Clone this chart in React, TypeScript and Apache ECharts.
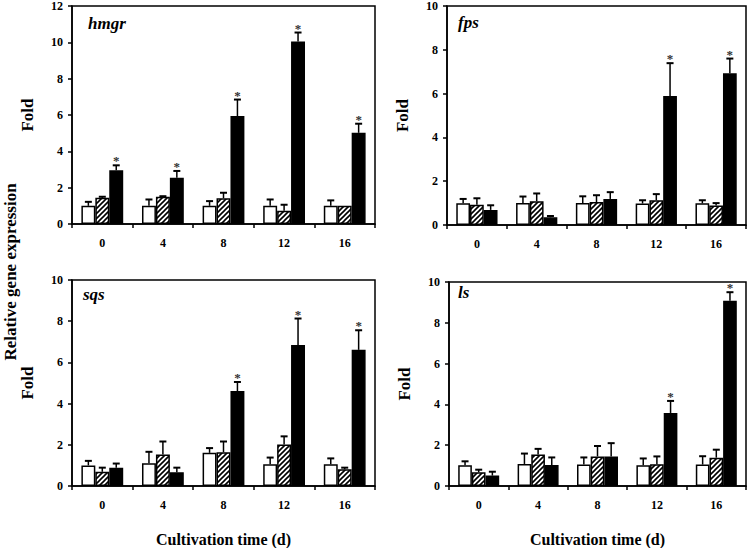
import React, { useEffect, useRef } from "react";
import * as echarts from "echarts";

const categories = ["0", "4", "8", "12", "16"];

const hmgrWhite = [1.0, 1.0, 1.0, 1.0, 1.0];
const hmgrWhiteErr = [0.22, 0.35, 0.26, 0.35, 0.3];
const hmgrHatch = [1.44, 1.5, 1.42, 0.73, 1.0];
const hmgrHatchErr = [0.06, 0.03, 0.3, 0.33, 0];
const hmgrBlack = [2.96, 2.54, 5.94, 10.05, 5.02];
const hmgrBlackErr = [0.27, 0.38, 0.91, 0.49, 0.5];
const hmgrStars = [1, 1, 1, 1, 1];

const fpsWhite = [0.99, 1.0, 1.0, 0.98, 0.99];
const fpsWhiteErr = [0.2, 0.3, 0.31, 0.15, 0.14];
const fpsHatch = [0.92, 1.09, 1.05, 1.13, 0.89];
const fpsHatchErr = [0.3, 0.35, 0.31, 0.28, 0.11];
const fpsBlack = [0.69, 0.35, 1.19, 5.89, 6.93];
const fpsBlackErr = [0.21, 0.06, 0.31, 1.5, 0.67];
const fpsStars = [0, 0, 0, 1, 1];

const sqsWhite = [1.0, 1.11, 1.61, 1.05, 1.05];
const sqsWhiteErr = [0.22, 0.55, 0.23, 0.33, 0.29];
const sqsHatch = [0.69, 1.53, 1.64, 2.02, 0.81];
const sqsHatchErr = [0.2, 0.63, 0.52, 0.39, 0.08];
const sqsBlack = [0.89, 0.67, 4.61, 6.84, 6.61];
const sqsBlackErr = [0.2, 0.22, 0.44, 1.29, 0.95];
const sqsStars = [0, 0, 1, 1, 1];

const lsWhite = [1.02, 1.08, 1.05, 1.02, 1.05];
const lsWhiteErr = [0.19, 0.51, 0.35, 0.33, 0.41];
const lsHatch = [0.67, 1.54, 1.45, 1.07, 1.39];
const lsHatchErr = [0.13, 0.28, 0.51, 0.38, 0.39];
const lsBlack = [0.51, 1.03, 1.45, 3.58, 9.08];
const lsBlackErr = [0.19, 0.37, 0.65, 0.59, 0.42];
const lsStars = [0, 0, 0, 1, 1];

const yMaxes = [12, 10, 10, 10];
const geneNames = ["hmgr", "fps", "sqs", "ls"];

const FONT = "'Liberation Serif', 'Times New Roman', serif";
const BAR_FRAC = 0.23;

function makeHatch(): string {
  const n = 5;
  const c = document.createElement("canvas");
  c.width = n;
  c.height = n;
  const ctx = c.getContext("2d")!;
  ctx.fillStyle = "#fff";
  ctx.fillRect(0, 0, n, n);
  ctx.strokeStyle = "#000";
  ctx.lineWidth = 1.6;
  ctx.beginPath();
  ctx.moveTo(-1, n + 1);
  ctx.lineTo(n + 1, -1);
  ctx.moveTo(-1, 1);
  ctx.lineTo(1, -1);
  ctx.moveTo(n - 1, n + 1);
  ctx.lineTo(n + 1, n - 1);
  ctx.stroke();
  return c.toDataURL();
}

export default function App() {
  const ref = useRef<HTMLDivElement>(null);
  useEffect(() => {
    if (!ref.current) return;
    const chart = echarts.init(ref.current, null, { renderer: "svg" });
    const hatch = { image: makeHatch(), repeat: "repeat", imageWidth: 5, imageHeight: 5 };

    const panels = [
      { w: hmgrWhite, we: hmgrWhiteErr, h: hmgrHatch, he: hmgrHatchErr, b: hmgrBlack, be: hmgrBlackErr, s: hmgrStars },
      { w: fpsWhite, we: fpsWhiteErr, h: fpsHatch, he: fpsHatchErr, b: fpsBlack, be: fpsBlackErr, s: fpsStars },
      { w: sqsWhite, we: sqsWhiteErr, h: sqsHatch, he: sqsHatchErr, b: sqsBlack, be: sqsBlackErr, s: sqsStars },
      { w: lsWhite, we: lsWhiteErr, h: lsHatch, he: lsHatchErr, b: lsBlack, be: lsBlackErr, s: lsStars },
    ];

    const grids = [
      { left: 72, top: 5, width: 303, height: 219 },
      { left: 447, top: 6, width: 299, height: 219 },
      { left: 72, top: 280, width: 303, height: 213 },
      { left: 449, top: 282, width: 297, height: 209 },
    ];

    const xAxis: any[] = [];
    const yAxis: any[] = [];
    const series: any[] = [];

    panels.forEach((p, gi) => {
      xAxis.push({
        type: "category",
        gridIndex: gi,
        data: categories,
        boundaryGap: true,
        axisLine: { lineStyle: { color: "#000", width: 1.5 } },
        axisTick: { show: true, inside: false, length: 4, interval: 0, lineStyle: { color: "#000", width: 1.5 } },
        axisLabel: { color: "#000", fontFamily: FONT, fontWeight: "bold", fontSize: 12, margin: 13 },
        name: gi >= 2 ? "Cultivation time (d)" : "",
        nameLocation: "middle",
        nameGap: 45,
        nameTextStyle: { color: "#000", fontFamily: FONT, fontWeight: "bold", fontSize: 16 },
      });
      yAxis.push({
        type: "value",
        gridIndex: gi,
        min: 0,
        max: yMaxes[gi],
        interval: 2,
        splitLine: { show: false },
        axisLine: { show: true, lineStyle: { color: "#000", width: 1.5 } },
        axisTick: { show: true, inside: false, length: 4, lineStyle: { color: "#000", width: 1.5 } },
        axisLabel: { color: "#000", fontFamily: FONT, fontWeight: "bold", fontSize: 12, margin: 9 },
        name: "Fold",
        nameLocation: "middle",
        nameGap: 36,
        nameTextStyle: { color: "#000", fontFamily: FONT, fontWeight: "bold", fontSize: 17 },
      });

      const groups = [
        { vals: p.w, errs: p.we, color: "#fff" },
        { vals: p.h, errs: p.he, color: hatch },
        { vals: p.b, errs: p.be, color: "#000" },
      ];
      groups.forEach((g) => {
        series.push({
          type: "bar",
          xAxisIndex: gi,
          yAxisIndex: gi,
          data: g.vals,
          barWidth: BAR_FRAC * 100 + "%",
          barGap: "0%",
          itemStyle: { color: g.color, borderColor: "#000", borderWidth: 1.5 },
          silent: true,
        });
      });

      const errData: any[] = [];
      groups.forEach((g, si) => {
        g.vals.forEach((v, ci) => {
          errData.push([ci, si, v, g.errs[ci], si === 2 ? p.s[ci] : 0]);
        });
      });
      series.push({
        type: "custom",
        xAxisIndex: gi,
        yAxisIndex: gi,
        data: errData,
        encode: { x: 0, y: 2 },
        silent: true,
        z: 5,
        renderItem: (params: any, api: any) => {
          const ci = api.value(0);
          const si = api.value(1);
          const v = api.value(2);
          const e = api.value(3);
          const star = api.value(4);
          const base = api.coord([ci, v]);
          const top = api.coord([ci, v + e]);
          const cw = api.size([1, 0])[0];
          const bw = cw * BAR_FRAC;
          const x = base[0] + (si - 1) * bw;
          const children: any[] = [];
          if (e > 0) {
            children.push({
              type: "line",
              shape: { x1: x, y1: base[1], x2: x, y2: top[1] },
              style: { stroke: "#000", lineWidth: 1.5 },
            });
            children.push({
              type: "line",
              shape: { x1: x - 3.5, y1: top[1], x2: x + 3.5, y2: top[1] },
              style: { stroke: "#000", lineWidth: 2 },
            });
          }
          if (star) {
            children.push({
              type: "text",
              x: x,
              y: top[1] + 2,
              style: {
                text: "*",
                fill: "#333",
                font: `bold 13px ${FONT}`,
                textAlign: "center",
                textVerticalAlign: "bottom",
              },
            });
          }
          return { type: "group", children };
        },
      });
    });

    const genePos = [
      [88, 24],
      [458, 23],
      [83, 295],
      [458, 293],
    ];

    const graphic: any[] = geneNames.map((n, i) => ({
      type: "text",
      left: genePos[i][0],
      top: genePos[i][1] - 9,
      style: {
        text: n,
        fill: "#000",
        font: `italic bold 17px ${FONT}`,
      },
    }));
    graphic.push({
      type: "text",
      x: 10,
      y: 272,
      rotation: Math.PI / 2,
      style: {
        text: "Relative gene expression",
        fill: "#000",
        font: `bold 17px ${FONT}`,
        textAlign: "center",
        textVerticalAlign: "middle",
      },
    });

    chart.setOption({
      animation: false,
      backgroundColor: "#fff",
      grid: grids.map((g) => ({ ...g, show: true, borderColor: "#000", borderWidth: 1.5, backgroundColor: "transparent" })),
      xAxis,
      yAxis,
      series,
      graphic,
    });
    return () => chart.dispose();
  }, []);
  return <div ref={ref} style={{ position: "fixed", left: 0, top: 0, width: 750, height: 548 }} />;
}
